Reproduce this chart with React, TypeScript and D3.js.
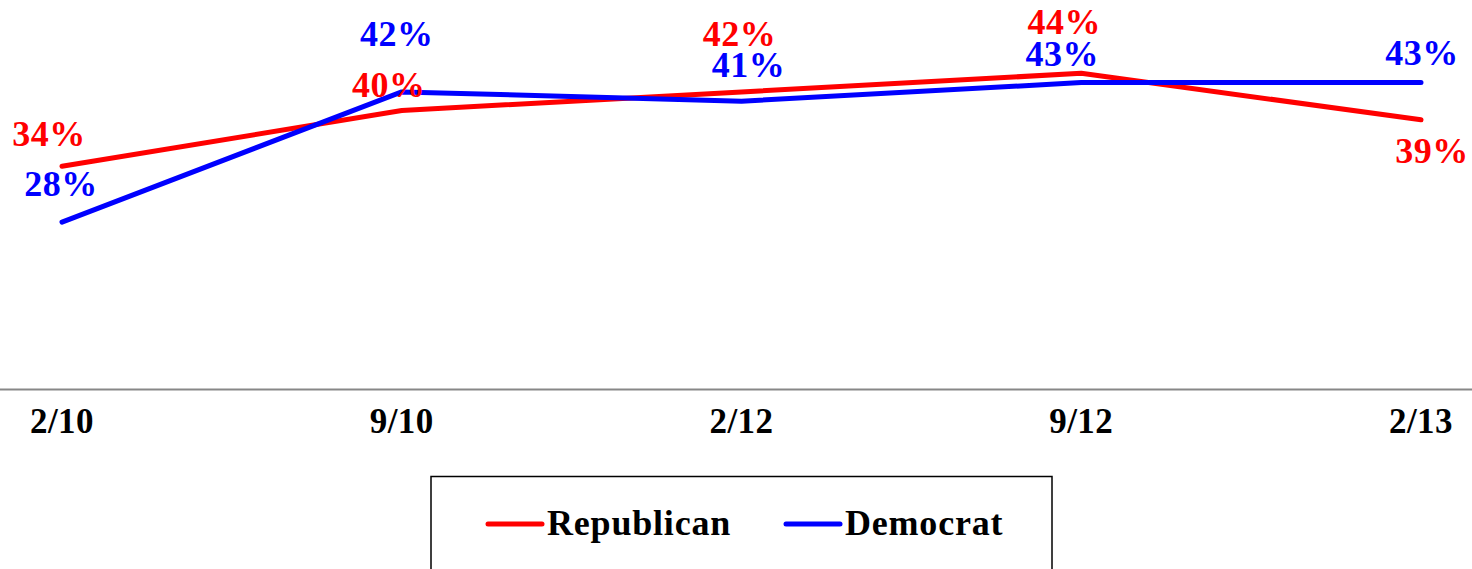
import React from "react";
import * as d3 from "d3";

const categories = ["2/10", "9/10", "2/12", "9/12", "2/13"];
const republican = [34, 40, 42, 44, 39];
const democrat = [28, 42, 41, 43, 43];
const seriesNames = ["Republican", "Democrat"];
const seriesColors = ["#ff0000", "#0000ff"];
// label offsets (dx, dy) relative to each point
const repLabelOffsets: [number, number][] = [[-13, -20], [-13, -14], [-2, -46], [-17, -39], [11, 43]];
const demLabelOffsets: [number, number][] = [[-1, -26], [-5, -46], [7, -24], [-19, -17], [1, -18]];

const W = 1472;
const H = 569;
const FONT = "'Liberation Serif', 'Times New Roman', serif";

export default function App() {
  const x = d3.scalePoint<string>().domain(categories).range([62, 1421]);
  const y = d3.scaleLinear().domain([10, 50]).range([389.5, 17.5]);
  const line = d3
    .line<number>()
    .x((_, i) => x(categories[i]) as number)
    .y((d) => y(d));

  const series = [
    { name: seriesNames[0], values: republican, color: seriesColors[0], offs: repLabelOffsets },
    { name: seriesNames[1], values: democrat, color: seriesColors[1], offs: demLabelOffsets },
  ];

  return (
    <svg
      width={W}
      height={H}
      style={{ position: "absolute", left: 0, top: 0, display: "block", background: "#fff" }}
      fontFamily={FONT}
      fontWeight="bold"
    >
      <line x1={0} x2={W} y1={y(10)} y2={y(10)} stroke="#878787" strokeWidth={2} />
      {categories.map((c) => (
        <text key={c} x={x(c)} y={433} textAnchor="middle" fontSize={35} letterSpacing={0.5} fill="#000">
          {c}
        </text>
      ))}
      {series.map((s) => (
        <path
          key={s.name}
          d={line(s.values) || ""}
          fill="none"
          stroke={s.color}
          strokeWidth={5}
          strokeLinecap="round"
          strokeLinejoin="round"
        />
      ))}
      {series.map((s) =>
        s.values.map((v, i) => (
          <text
            key={s.name + i}
            x={(x(categories[i]) as number) + s.offs[i][0]}
            y={y(v) + s.offs[i][1]}
            textAnchor="middle"
            fontSize={36}
            letterSpacing={0.5}
            fill={s.color}
          >
            {v}%
          </text>
        ))
      )}
      <rect x={431} y={476.5} width={621} height={110} fill="none" stroke="#000" strokeWidth={1.5} />
      {series.map((s, i) => {
        const lx = i === 0 ? 488 : 786;
        return (
          <g key={s.name}>
            <line x1={lx} x2={lx + 54} y1={524} y2={524} stroke={s.color} strokeWidth={5} strokeLinecap="round" />
            <text x={lx + 59} y={535} fontSize={36} letterSpacing={0.8} fill="#000">
              {s.name}
            </text>
          </g>
        );
      })}
    </svg>
  );
}
